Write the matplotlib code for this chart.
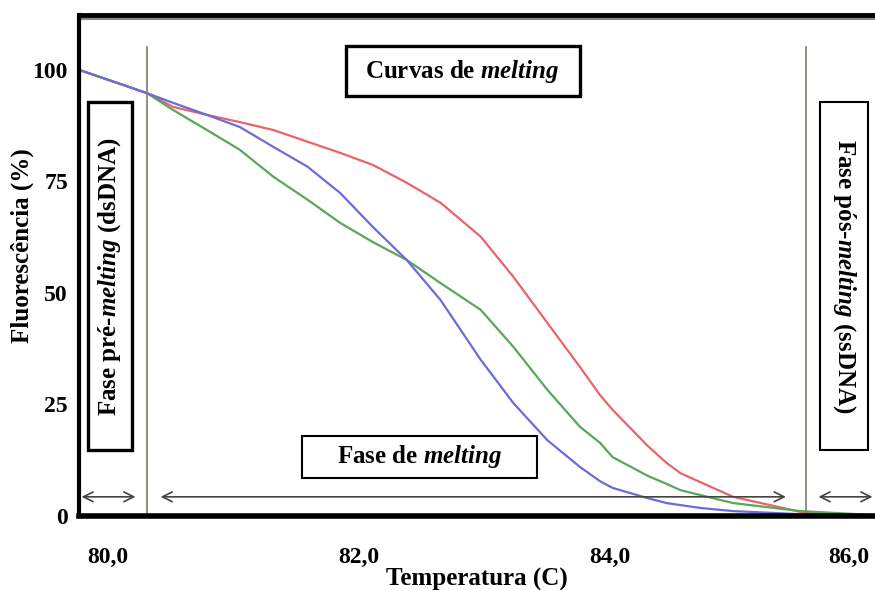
import matplotlib as mpl
mpl.use("Agg")
import matplotlib.pyplot as plt
from matplotlib.patches import Rectangle
from matplotlib.transforms import ScaledTranslation

mpl.rcParams.update({
    "font.family": "serif", "font.serif": ["Liberation Serif", "DejaVu Serif"],
    "font.weight": "bold", "mathtext.fontset": "custom",
    "mathtext.rm": "Liberation Serif:bold", "mathtext.it": "Liberation Serif:italic:bold",
})

# melting curves (temperature in C, fluorescence in %)
red_t = [79.77, 80.31, 80.52, 80.79, 81.05, 81.32, 81.59, 81.85, 82.11, 82.38, 82.65, 82.97,
         83.23, 83.50, 83.76, 83.92, 84.02, 84.30, 84.45, 84.56, 84.98, 85.52, 85.83]
red_f = [100, 94.8, 91.7, 89.9, 88.3, 86.5, 83.9, 81.4, 78.7, 74.7, 70.2, 62.6,
         53.6, 43.3, 33.4, 27.1, 23.8, 15.7, 11.9, 9.6, 4.3, 0.9, 0.2]
blue_t = [79.77, 80.31, 80.52, 80.79, 81.05, 81.32, 81.59, 81.85, 82.11, 82.38, 82.65, 82.97,
          83.23, 83.50, 83.76, 83.92, 84.02, 84.30, 84.45, 84.72, 84.98, 85.52, 85.91]
blue_f = [100, 94.8, 92.6, 89.9, 87.2, 82.7, 78.3, 72.4, 64.8, 57.4, 48.4, 35.0,
          25.3, 17.0, 11.0, 7.8, 6.3, 4.0, 2.9, 1.8, 1.1, 0.4, 0.1]
green_t = [79.77, 80.31, 80.52, 80.79, 81.05, 81.32, 81.59, 81.85, 82.11, 82.38, 82.65, 82.97,
           83.23, 83.50, 83.76, 83.92, 84.02, 84.30, 84.45, 84.56, 84.98, 85.52, 86.11]
green_f = [100, 94.8, 91.0, 86.5, 82.1, 76.0, 70.9, 65.7, 61.4, 57.4, 52.2, 46.2,
           37.9, 28.3, 20.0, 16.4, 13.2, 9.0, 7.2, 5.8, 2.9, 1.1, 0.2]

pre_end, post_start = 80.31, 85.56
xticks = [80, 82, 84, 86]
xtick_labels = ["80,0", "82,0", "84,0", "86,0"]
yticks = [0, 25, 50, 75, 100]

fig = plt.figure(figsize=(8.75, 5.9), dpi=100)
ax = fig.add_axes([0.0903, 0.1254, 0.9097, 0.8492])

kw = dict(lw=1.6, solid_joinstyle="round", solid_capstyle="round")
ax.plot(red_t, red_f, color="#e8646c", **kw)
ax.plot(green_t, green_f, color="#5aa65a", **kw)
ax.plot(blue_t, blue_f, color="#6c6cd6", **kw)

for x in (pre_end, post_start):
    ax.plot([x, x], [0, 105.2], color="#7d7d6e", lw=1.2)

arrow_y = 4.3
for x0, x1 in [(79.79, 80.22), (80.42, 85.40), (85.66, 86.09)]:
    ax.annotate("", xy=(x1, arrow_y), xytext=(x0, arrow_y),
                arrowprops=dict(arrowstyle="<->,head_length=0.7,head_width=0.35",
                                color="#444444", lw=1.2, shrinkA=0, shrinkB=0))

boxes = [
    ((0.335, 0.838), 0.294, 0.100, 2.4, "Curvas de $\\mathit{melting}$", 0),
    ((0.0113, 0.1317), 0.0553, 0.694, 2.4, "Fase pré-$\\mathit{melting}$ (dsDNA)", 90),
    ((0.931, 0.1317), 0.060, 0.694, 1.5, "Fase pós-$\\mathit{melting}$ (ssDNA)", -90),
    ((0.280, 0.0758), 0.295, 0.084, 1.5, "Fase de $\\mathit{melting}$", 0),
]
for (bx, by), w, h, lw, txt, rot in boxes:
    ax.add_patch(Rectangle((bx, by), w, h, transform=ax.transAxes, fill=True,
                           facecolor="white", edgecolor="black", lw=lw, zorder=4))
    ax.text(bx + w / 2, by + h / 2, txt, transform=ax.transAxes, rotation=rot,
            ha="center", va="center", fontsize=18, zorder=5)

ax.set_xlim(79.77, 86.11)
ax.set_ylim(0, 112.3)
ax.set_xticks(xticks)
ax.set_xticklabels(xtick_labels)
ax.set_yticks(yticks)
ax.tick_params(length=0, labelsize=17)
ax.tick_params(axis="x", pad=22)
ax.tick_params(axis="y", pad=8)
for lab in ax.get_xticklabels() + ax.get_yticklabels():
    lab.set_fontweight("bold")
last = ax.get_xticklabels()[-1]
last.set_transform(last.get_transform() + ScaledTranslation(-0.12, 0, fig.dpi_scale_trans))

ax.spines["right"].set_visible(False)
ax.spines["left"].set_linewidth(3)
ax.spines["bottom"].set_linewidth(4)
ax.spines["top"].set_linewidth(3.5)
ax.axhline(111.4, color="#888888", lw=1.5)

ax.set_xlabel("Temperatura (C)", fontsize=18, fontweight="bold", labelpad=0)
ax.set_ylabel("Fluorescência (%)", fontsize=18, fontweight="bold")
ax.yaxis.set_label_coords(-0.056, 0.54)

fig.savefig("out.png", dpi=100)
